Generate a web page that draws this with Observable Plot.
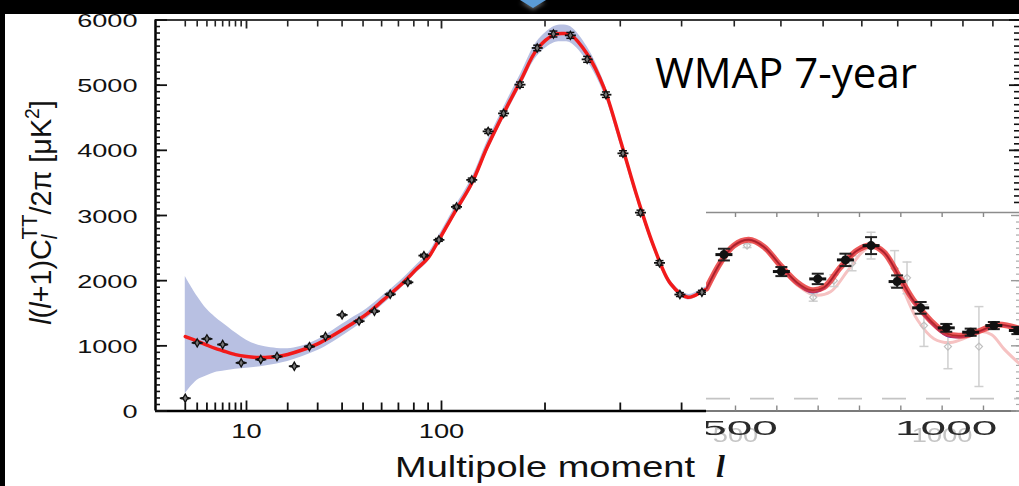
<!DOCTYPE html>
<html><head><meta charset="utf-8">
<script src="https://cdn.jsdelivr.net/npm/d3@7"></script>
<script src="https://cdn.jsdelivr.net/npm/@observablehq/plot@0.6"></script>
<style>
html,body{margin:0;padding:0;background:#000;width:1019px;height:486px;overflow:hidden}
#frame{position:absolute;left:5px;top:14px;width:1014px;height:472px;background:#fff;overflow:hidden}
#main{position:absolute;left:0;top:0}
#inset{position:absolute;left:701px;top:191px;width:313px;height:246px;background:#fff;overflow:hidden}
#inset svg{filter:blur(0.45px)}
#tri{position:absolute;left:520px;top:0;width:0;height:0;border-left:13px solid transparent;border-right:13px solid transparent;border-top:8px solid #5b9bd5;filter:drop-shadow(0 2px 2px rgba(255,255,255,0.4))}
</style></head><body>
<div id="frame"><div id="main"></div><div id="inset"></div></div>
<div id="tri"></div>
<script>
// ---------------- data ----------------
// WMAP 7-year binned TT points: multipole, l(l+1)C_l/2pi [uK^2], error
const dataL   = [2,3,4,6,9,13,17,22,27,33,40,48,56,65,76,87,98,112,125,140,155,172,191,210,231,253,279,304,331,362,397,437];
const dataV   = [196,1046,1107,1020,739,790,836,687,989,1143,1475,1378,1531,1791,1975,2385,2626,3132,3546,4291,4567,5008,5571,5785,5764,5396,4854,3954,3044,2273,1787,1822];
const dataErr = [8,8,8,8,8,8,8,8,10,10,12,14,15,16,18,20,22,25,28,32,36,40,42,45,45,45,42,40,38,35,30,30];

// best-fit model curve and its cosmic-variance band
const modelL = [2,3,4,5,6,8,10,12,14,17,20,24,30,36,44,52,61,71,82,90,97,110,125,139,155,173,191,211,221,231,253,276,300,326,353,381,411,435,445];
const modelV = [1143,1071,1010,960,925,865,835,822,820,835,868,928,1031,1158,1327,1491,1705,1925,2181,2350,2589,3034,3494,4046,4567,5080,5555,5775,5794,5775,5479,4966,4160,3279,2512,1951,1745,1822,1870];
const bandLo = [264,470,540,590,610,640,657,672,692,722,760,825,928,1055,1235,1420,1640,1865,2120,2290,2525,2965,3420,3965,4480,4985,5445,5650,5665,5650,5370,4880,4090,3220,2460,1905,1705,1785,1830];
const bandHi = [2063,1760,1560,1440,1350,1200,1085,1020,985,960,955,989,1092,1235,1414,1570,1775,1990,2245,2415,2655,3105,3570,4130,4655,5180,5670,5900,5925,5900,5590,5055,4230,3340,2565,2000,1790,1860,1910];

// inset (high-l) panel
const insetBlackL   = [472,611,699,766,828,891,948,1010,1069,1125,1182];
const insetBlackV   = [2400,2140,2027,2319,2538,1986,1583,1276,1209,1311,1235];
const insetBlackErr = [90,70,80,95,130,95,90,60,55,55,55];
const insetGrayL    = [528,688,738,782,828,885,915,956,1014,1089];
const insetGrayV    = [2538,1745,2000,2267,2538,2185,2043,1311,989,989];
const insetGrayErr  = [30,60,90,115,205,276,243,320,340,613];
const insetFitL  = [430,464,496,532,568,609,649,681,714,754,794,827,859,899,931,972,1012,1052,1093,1133,1188];
const insetRedV  = [1880,2282,2538,2626,2523,2232,1975,1859,1899,2206,2462,2538,2436,2028,1695,1388,1184,1158,1235,1327,1261];
const insetBlueV = [1880,2282,2538,2630,2523,2232,1960,1825,1880,2206,2462,2540,2436,2028,1680,1360,1150,1140,1225,1320,1255];
const pinkL = [430,470,500,535,570,610,650,690,730,770,810,835,865,900,940,980,1020,1060,1093,1120,1150,1188];
const pinkV = [1850,2330,2560,2620,2500,2200,1930,1780,1830,2140,2460,2530,2400,1950,1400,1110,1050,1130,1220,1170,950,720];
const insetDashV = 190;

// ticks
const yMajorTicks = [0,1000,2000,3000,4000,5000,6000];
const yMinorTicks = d3.range(0, 6001, 100);
const xLabelTicks = [10, 100];
const xMinorTicks = [2,3,4,5,6,7,8,9,20,30,40,50,60,70,80,90,200,300,400,500,600,700,800,900,1000,1100,1200];
const xMajorTicks = [10, 100];
const insetTicks = [500,600,700,800,900,1000,1100];
const insetLabelTicks = [500, 1000];
const insetYMajor = [0,1000,2000,3000];

// ---------------- layout ----------------
const OX = 5, OY = 14, W = 1014, H = 472;
const yTopPx = 19.5, yBotPx = 410.5;
const expo = 0.4;
const kx = (441 - 246) / (Math.pow(100, expo) - Math.pow(10, expo));
const lAt = px => Math.pow(Math.pow(100, expo) + (px - 441) / kx, 1 / expo);
const xDomain = [lAt(155), lAt(1019)];

const model = modelL.map((l, i) => ({l, v: modelV[i], lo: bandLo[i], hi: bandHi[i]}));
const pts = dataL.map((l, i) => ({l, v: dataV[i], e: dataErr[i]}));
const hbar = w => ({draw(ctx) { ctx.moveTo(-w / 2, 0); ctx.lineTo(w / 2, 0); }});
const sans = "Liberation Sans, Arial, Helvetica, sans-serif";

const main = Plot.plot({
  width: W, height: H,
  marginLeft: 155 - OX, marginRight: 0, marginTop: yTopPx - OY, marginBottom: H - (yBotPx - OY),
  x: {type: "pow", exponent: expo, domain: xDomain},
  y: {domain: [0, 6000]},
  marks: [
    Plot.areaY(model, {x: "l", y1: "lo", y2: "hi", fill: "#b8c0e2", curve: "catmull-rom"}),
    Plot.lineY(model, {x: "l", y: "v", stroke: "#f21a1a", strokeWidth: 3.5, curve: "catmull-rom"}),
    Plot.ruleX(pts, {x: "l", y1: d => d.v - d.e, y2: d => d.v + d.e, stroke: "#111", strokeWidth: 1.2}),
    Plot.dot(pts, {x: "l", y: d => d.v - d.e, symbol: hbar(8), stroke: "#111", strokeWidth: 1.5}),
    Plot.dot(pts, {x: "l", y: d => d.v + d.e, symbol: hbar(8), stroke: "#111", strokeWidth: 1.5}),
    Plot.dot(pts, {x: "l", y: "v", symbol: hbar(11), stroke: "#111", strokeWidth: 1.8}),
    Plot.dot(pts, {x: "l", y: "v", symbol: "diamond", r: 2.5, fill: "#777", stroke: "#111", strokeWidth: 1.3}),
    // frame lines
    Plot.ruleY([0], {stroke: "#000", strokeWidth: 2.5}),
    Plot.ruleY([6000], {stroke: "#3a3a3a", strokeWidth: 2}),
    Plot.ruleX([xDomain[0]], {stroke: "#000", strokeWidth: 2.5}),
    // left axis
    Plot.axisY(yMinorTicks, {anchor: "left", tickSize: 5, dx: 5, fill: "none", label: null, stroke: "#111", strokeWidth: 1.6}),
    Plot.axisY(yMajorTicks, {anchor: "left", tickSize: 12, dx: 12, fill: "none", label: null, stroke: "#111", strokeWidth: 1.8}),
    Plot.axisY(yMajorTicks, {anchor: "left", tickSize: 0, tickPadding: 18, dy: 1.5, label: null, fill: "#111", fontSize: 17.5, fontFamily: sans, tickFormat: d => String(d)}),
    // right axis
    Plot.axisY(yMinorTicks, {anchor: "right", tickSize: 6, dx: -6, fill: "none", label: null, stroke: "#111", strokeWidth: 1.6}),
    Plot.axisY(yMajorTicks, {anchor: "right", tickSize: 11, dx: -11, fill: "none", label: null, stroke: "#111", strokeWidth: 1.8}),
    // bottom axis
    Plot.axisX(xMinorTicks, {anchor: "bottom", tickSize: 8, dy: -8, fill: "none", label: null, stroke: "#111", strokeWidth: 1.8}),
    Plot.axisX(xMajorTicks, {anchor: "bottom", tickSize: 10, dy: -10, fill: "none", label: null, stroke: "#111", strokeWidth: 1.8}),
    Plot.axisX(xLabelTicks, {anchor: "bottom", tickSize: 0, tickPadding: 12.5, label: null, fill: "#111", fontSize: 21, fontFamily: sans, tickFormat: d => String(d)}),
    // top axis
    Plot.axisX(xMinorTicks, {anchor: "top", tickSize: 6, dy: 6, fill: "none", label: null, stroke: "#222", strokeWidth: 1.6}),
    Plot.axisX(xMajorTicks, {anchor: "top", tickSize: 8, dy: 8, fill: "none", label: null, stroke: "#222", strokeWidth: 1.8})
  ]
});
document.getElementById("main").appendChild(main);

const svg = d3.select(main);
svg.selectAll('g[aria-label="y-axis tick label"] text').each(function() {
  const t = this.getAttribute("transform") || "";
  this.setAttribute("transform", t + " scale(1.55,1)");
});
svg.selectAll('g[aria-label="x-axis tick label"] text').each(function() {
  const t = this.getAttribute("transform") || "";
  this.setAttribute("transform", t + " scale(1.3,1)");
});

// y-axis title
const yt = svg.append("text")
  .attr("transform", `translate(${51 - OX},${212.5 - OY}) rotate(-90) scale(1.2,1.25)`)
  .attr("text-anchor", "middle").attr("font-family", sans).attr("font-size", 24).attr("fill", "#111");
yt.append("tspan").attr("font-style", "italic").text("l");
yt.append("tspan").text("(");
yt.append("tspan").attr("font-style", "italic").text("l");
yt.append("tspan").text("+1)C");
yt.append("tspan").attr("font-style", "italic").attr("font-size", 17).attr("dy", 5).text("l");
yt.append("tspan").attr("font-size", 17).attr("dx", -4).attr("dy", -16).text("TT");
yt.append("tspan").attr("dy", 11).text("/2π [μK");
yt.append("tspan").attr("font-size", 16).attr("dy", -10).text("2");
yt.append("tspan").attr("dy", 10).text("]");

// x-axis title
svg.append("text").attr("x", 395 - OX).attr("y", 477 - OY).attr("text-anchor", "start")
  .attr("font-family", sans).attr("font-size", 29).attr("fill", "#111")
  .attr("textLength", 300).attr("lengthAdjust", "spacingAndGlyphs")
  .text("Multipole moment");
svg.append("text").attr("x", 716 - OX).attr("y", 477 - OY).attr("text-anchor", "start")
  .attr("font-family", "Liberation Serif, Times New Roman, serif").attr("font-style", "italic").attr("font-weight", "bold")
  .attr("font-size", 32).attr("fill", "#111").text("l");

// annotation
svg.append("text").attr("x", 655 - OX).attr("y", 88 - OY).attr("text-anchor", "start")
  .attr("font-family", "Open Sans, Noto Sans, sans-serif").attr("font-size", 42).attr("fill", "#000")
  .text("WMAP 7-year");

// ---------------- inset ----------------
const IX0 = 706, IY0 = 205, IW = 313, IH = 246;
const insetPxPerL = 0.4133, inset500 = 735;
const lInset = px => 500 + (px - inset500) / insetPxPerL;
const insetXDomain = [lInset(IX0), lInset(IX0 + IW)];
const yPer = (yBotPx - yTopPx) / 6000;
const insetTopV = (yBotPx - 212) / yPer;

const fit = insetFitL.map((l, i) => ({l, r: insetRedV[i], b: insetBlueV[i]}));
const pink = pinkL.map((l, i) => ({l, v: pinkV[i]}));
const blk = insetBlackL.map((l, i) => ({l, v: insetBlackV[i], e: insetBlackErr[i]}));
const gry = insetGrayL.map((l, i) => ({l, v: insetGrayV[i], e: insetGrayErr[i]}));
const insetYMinor = d3.range(0, insetTopV, 100);

const inset = Plot.plot({
  width: IW, height: IH,
  marginLeft: 0, marginRight: 0, marginTop: 212 - IY0, marginBottom: IH - (yBotPx - IY0),
  x: {domain: insetXDomain},
  y: {domain: [0, insetTopV]},
  marks: [
    Plot.ruleY([insetTopV], {stroke: "#8c8c8c", strokeWidth: 1.6}),
    Plot.ruleY([0], {stroke: "#7a7a7a", strokeWidth: 2.2}),
    Plot.ruleY([insetDashV], {stroke: "#c4c4c4", strokeWidth: 1.6, strokeDasharray: "24,20"}),
    Plot.axisX(insetTicks, {anchor: "top", tickSize: 4, dy: 4, fill: "none", label: null, stroke: "#888", strokeWidth: 1.4}),
    Plot.axisX(insetTicks, {anchor: "bottom", tickSize: 5, dy: -5, fill: "none", label: null, stroke: "#888", strokeWidth: 1.4}),
    Plot.axisY(insetYMinor, {anchor: "right", tickSize: 4, dx: -4, fill: "none", label: null, stroke: "#aaa", strokeWidth: 1.2}),
    Plot.axisY(insetYMajor, {anchor: "right", tickSize: 9, dx: -9, fill: "none", label: null, stroke: "#999", strokeWidth: 1.4}),
    Plot.lineY(pink, {x: "l", y: "v", stroke: "#f6c2c2", strokeWidth: 3, curve: "catmull-rom"}),
    Plot.ruleX(gry, {x: "l", y1: d => d.v - d.e, y2: d => d.v + d.e, stroke: "#cfcfcf", strokeWidth: 1.5}),
    Plot.dot(gry, {x: "l", y: d => d.v - d.e, symbol: hbar(9), stroke: "#cfcfcf", strokeWidth: 1.5}),
    Plot.dot(gry, {x: "l", y: d => d.v + d.e, symbol: hbar(9), stroke: "#cfcfcf", strokeWidth: 1.5}),
    Plot.dot(gry, {x: "l", y: "v", symbol: "diamond2", r: 3.2, stroke: "#c0c0c0", strokeWidth: 1.2}),
    Plot.lineY(fit, {x: "l", y: "b", stroke: "#2a2ad0", strokeWidth: 2, curve: "catmull-rom"}),
    Plot.lineY(fit, {x: "l", y: "r", stroke: "#e83535", strokeWidth: 6, strokeOpacity: 0.82, curve: "catmull-rom"}),
    Plot.lineY(fit, {x: "l", y: "r", stroke: "#a01818", strokeWidth: 1.6, strokeOpacity: 0.7, curve: "catmull-rom"}),
    Plot.ruleX(blk, {x: "l", y1: d => d.v - d.e, y2: d => d.v + d.e, stroke: "#222", strokeWidth: 1.8}),
    Plot.dot(blk, {x: "l", y: d => d.v - d.e, symbol: hbar(12), stroke: "#222", strokeWidth: 2}),
    Plot.dot(blk, {x: "l", y: d => d.v + d.e, symbol: hbar(12), stroke: "#222", strokeWidth: 2}),
    Plot.dot(blk, {x: "l", y: "v", symbol: hbar(17), stroke: "#111", strokeWidth: 3}),
    Plot.dot(blk, {x: "l", y: "v", r: 4.5, fill: "#111"}),
    Plot.text(insetLabelTicks, {x: d => d, text: d => String(d), frameAnchor: "bottom", lineAnchor: "top", dy: 16.5,
      fill: "#c4c4c4", fontSize: 21, fontFamily: sans, ariaDescription: "gray-labels"}),
    Plot.text(insetLabelTicks, {x: d => d, text: d => String(d), frameAnchor: "bottom", lineAnchor: "top", dy: 10, dx: 4,
      fill: "#2a2a2a", fontSize: 20, fontFamily: sans, ariaDescription: "dark-labels"})
  ]
});
document.getElementById("inset").appendChild(inset);
const isvg = d3.select(inset);
isvg.selectAll('g[aria-description="gray-labels"] text').each(function() {
  this.setAttribute("transform", (this.getAttribute("transform") || "") + " scale(1.3,1)");
});
isvg.selectAll('g[aria-description="dark-labels"] text').each(function() {
  this.setAttribute("transform", (this.getAttribute("transform") || "") + " scale(2.3,1)");
});
</script>
</body></html>
